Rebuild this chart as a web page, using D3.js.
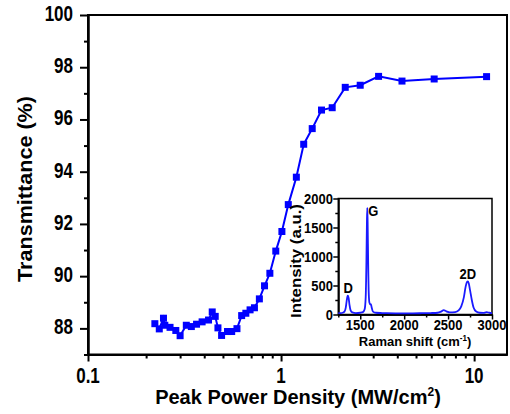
<!DOCTYPE html>
<html>
<head>
<meta charset="utf-8">
<script src="https://cdn.jsdelivr.net/npm/d3@7"></script>
<style>
body{margin:0;background:#fff}
text{font-family:"Liberation Sans",Arial,sans-serif;fill:#000}
</style>
</head>
<body>
<script>
// main curve: peak power density (MW/cm2) vs transmittance (%)
var power = [0.222,0.234,0.246,0.250,0.266,0.285,0.300,0.323,0.343,0.365,0.390,0.421,0.440,0.456,0.471,0.492,
             0.528,0.555,0.591,0.625,0.657,0.691,0.728,0.772,0.821,0.875,0.939,1.01,1.09,1.20,1.31,1.45,
             1.62,1.84,2.15,2.57,3.20,4.23,6.21,11.6];
var transmittance = [88.18,87.98,88.39,88.12,88.04,87.92,87.72,88.12,88.07,88.16,88.25,88.32,88.63,88.46,88.02,87.73,
             87.88,87.88,87.99,88.49,88.58,88.71,88.79,89.13,89.63,90.11,90.96,91.71,92.74,93.79,95.05,95.65,
             96.36,96.45,97.23,97.31,97.65,97.47,97.55,97.64];
var yTicks = [88,90,92,94,96,98,100];
var yMinor = [87,89,91,93,95,97,99];
var xTicks = [0.1,1,10];
var xMinor = [0.2,0.3,0.4,0.5,0.6,0.7,0.8,0.9,2,3,4,5,6,7,8,9];

// inset: Raman spectrum
var ramanShift = [1250,1280,1300,1320,1335,1345,1355,1360,1368,1378,1390,1410,1450,1500,1530,1550,1562,1570,1576,1580,
                  1584,1590,1597,1605,1615,1622,1630,1645,1680,1750,1800,1900,2000,2100,2200,2300,2380,2420,2450,2480,
                  2520,2580,2620,2650,2680,2700,2715,2725,2735,2750,2770,2790,2820,2860,2900,2940,2970,3000];
var ramanIntensity = [25,25,30,50,120,230,315,325,280,160,70,35,25,30,40,90,300,900,1600,1840,
                  1600,900,350,200,170,180,120,50,30,25,22,20,20,20,22,25,30,50,75,55,
                  35,40,70,140,300,480,560,570,540,420,250,120,50,30,28,40,30,25];
var insetXTicks = [1500,2000,2500,3000];
var insetXMinor = [1250,1750,2250,2750];
var insetYTicks = [0,500,1000,1500,2000];
var insetYMinor = [250,750,1250,1750];
var peakNames = ['D','G','2D'];
var peakShift = [1362,1648,2724];
var peakLabelY = [370,1690,605];

var width = 510, height = 414;
var sy = 1.25; // the figure text is drawn a bit taller than wide

var svg = d3.select('body').append('svg')
    .attr('width',width)
    .attr('height',height);

var x = d3.scaleLog().domain([0.1,14.8]).range([88,507]);
var y = d3.scaleLinear().domain([87,100]).range([354.5,15]);

function stretchText(g,px,py,str,size,weight,anchor,s){
    return g.append('text')
        .attr('transform','translate('+px+','+py+') scale(1,'+s+')')
        .attr('text-anchor',anchor)
        .style('font-size',size+'px')
        .style('font-weight',weight)
        .text(str);
}

// frame
svg.append('rect')
    .attr('x',x.range()[0]).attr('y',y.range()[1])
    .attr('width',x.range()[1]-x.range()[0])
    .attr('height',y.range()[0]-y.range()[1])
    .attr('fill','none').attr('stroke','#000').attr('stroke-width',2);

// axes
var gx = svg.append('g').attr('transform','translate(0,'+y.range()[0]+')');
gx.call(d3.axisBottom(x).tickValues(xTicks).tickSize(7).tickSizeOuter(0).tickFormat(''));
gx.append('g').call(d3.axisBottom(x).tickValues(xMinor).tickSize(4).tickSizeOuter(0).tickFormat(''));
var gy = svg.append('g').attr('transform','translate('+x.range()[0]+',0)');
gy.call(d3.axisLeft(y).tickValues(yTicks).tickSize(8).tickSizeOuter(0).tickFormat(''));
gy.append('g').call(d3.axisLeft(y).tickValues(yMinor).tickSize(4).tickSizeOuter(0).tickFormat(''));
svg.selectAll('.domain').attr('stroke-width',2);
svg.selectAll('.tick line').attr('stroke-width',2);

xTicks.forEach(function(d){
    stretchText(svg,x(d),383,d3.format('')(d),17,'bold','middle',sy);
});
yTicks.forEach(function(d){
    stretchText(svg,73,y(d)+6,d,17,'bold','end',sy);
});

// axis titles
var xt = svg.append('text')
    .attr('x',298).attr('y',404)
    .attr('text-anchor','middle')
    .style('font-size','20px').style('font-weight','bold');
xt.append('tspan').text('Peak Power Density (MW/cm');
xt.append('tspan').attr('dy',-8).style('font-size','12px').text('2');
xt.append('tspan').attr('dy',8).text(')');

svg.append('text')
    .attr('transform','translate(32,189) scale(1,1.08) rotate(-90)')
    .attr('text-anchor','middle')
    .style('font-size','20px')
    .style('font-weight','bold')
    .text('Transmittance (%)');

// main data
var line = d3.line()
    .x(function(d,i){return x(power[i]);})
    .y(function(d,i){return y(transmittance[i]);});
svg.append('path')
    .attr('d',line(power))
    .attr('fill','none')
    .attr('stroke','#0000ff')
    .attr('stroke-width',2);
svg.selectAll('rect.pt')
    .data(power)
    .enter()
    .append('rect')
    .attr('class','pt')
    .attr('x',function(d){return x(d)-3.5;})
    .attr('y',function(d,i){return y(transmittance[i])-3.5;})
    .attr('width',7)
    .attr('height',7)
    .attr('fill','#0000ff');

// inset
var ix = d3.scaleLinear().domain([1250,3000]).range([338.3,492]);
var iy = d3.scaleLinear().domain([0,2000]).range([314.5,198.5]);
var inset = svg.append('g');
inset.append('rect')
    .attr('x',ix.range()[0]).attr('y',iy.range()[1])
    .attr('width',ix.range()[1]-ix.range()[0])
    .attr('height',iy.range()[0]-iy.range()[1])
    .attr('fill','none').attr('stroke','#000').attr('stroke-width',1.5);
var igx = inset.append('g').attr('transform','translate(0,'+iy.range()[0]+')');
igx.call(d3.axisBottom(ix).tickValues(insetXTicks).tickSize(5).tickSizeOuter(0).tickFormat(''));
igx.append('g').call(d3.axisBottom(ix).tickValues(insetXMinor).tickSize(3).tickSizeOuter(0).tickFormat(''));
var igy = inset.append('g').attr('transform','translate('+ix.range()[0]+',0)');
igy.call(d3.axisLeft(iy).tickValues(insetYTicks).tickSize(5).tickSizeOuter(0).tickFormat(''));
igy.append('g').call(d3.axisLeft(iy).tickValues(insetYMinor).tickSize(3).tickSizeOuter(0).tickFormat(''));
inset.selectAll('.domain').attr('stroke-width',1.5);
inset.selectAll('.tick line').attr('stroke-width',1.5);

insetXTicks.forEach(function(d){
    stretchText(inset,ix(d),330,d,13,'bold','middle',1.15);
});
insetYTicks.forEach(function(d){
    stretchText(inset,333,iy(d)+5,d,13,'bold','end',1.15);
});

var it = inset.append('text')
    .attr('transform','translate(415,346) scale(1,1.05)')
    .attr('text-anchor','middle')
    .style('font-size','13px').style('font-weight','bold');
it.append('tspan').text('Raman shift (cm');
it.append('tspan').attr('dy',-5).style('font-size','8px').text('-1');
it.append('tspan').attr('dy',5).text(')');

inset.append('text')
    .attr('transform','translate(301,261) scale(1,1.2) rotate(-90)')
    .attr('text-anchor','middle')
    .style('font-size','14px')
    .style('font-weight','bold')
    .text('Intensity (a.u.)');

var rline = d3.line()
    .x(function(d,i){return ix(ramanShift[i]);})
    .y(function(d,i){return iy(ramanIntensity[i]);})
    .curve(d3.curveMonotoneX);
inset.append('path')
    .attr('d',rline(ramanShift))
    .attr('fill','none')
    .attr('stroke','#1a1aff')
    .attr('stroke-width',1.8);

peakNames.forEach(function(d,i){
    stretchText(inset,ix(peakShift[i]),iy(peakLabelY[i]),d,13,'bold','middle',1.15);
});
</script>
</body>
</html>
